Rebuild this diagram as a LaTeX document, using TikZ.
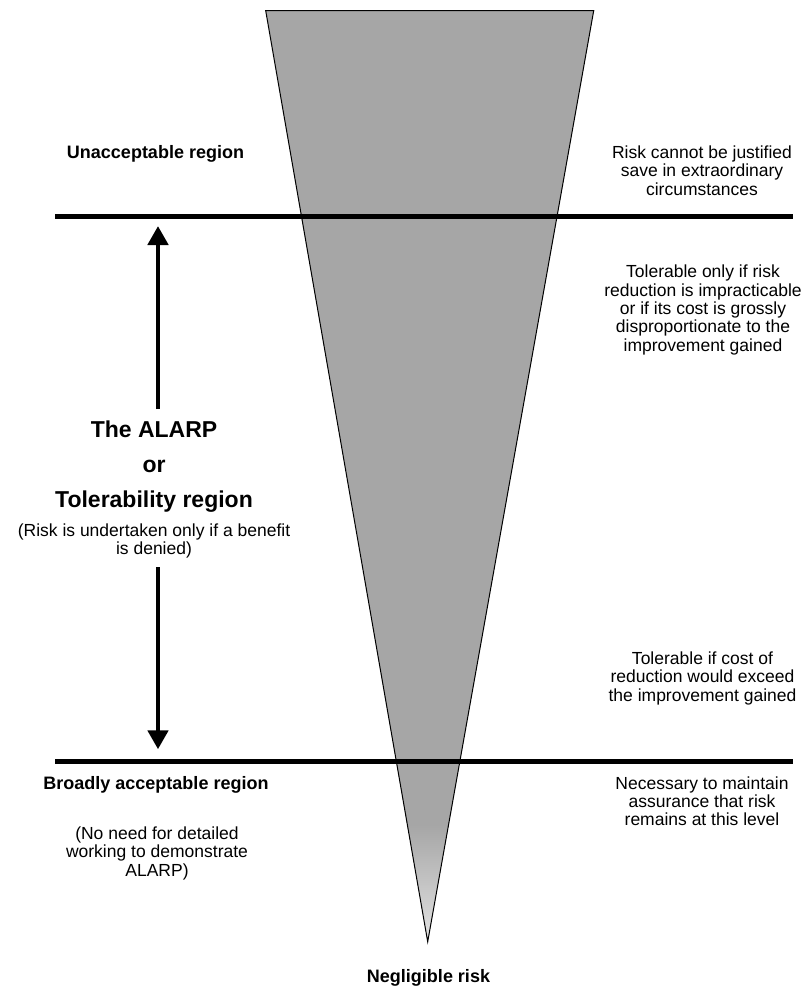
\documentclass[tikz,border=0pt]{standalone}
\usepackage{fontspec}
\setmainfont{Liberation Sans}
\usetikzlibrary{arrows.meta}
\definecolor{conegray}{HTML}{A6A6A6}
\definecolor{tipgray}{HTML}{E4E4E4}
\begin{document}
\begin{tikzpicture}[x=1pt,y=-1pt,
  lbl/.style={font=\fontsize{18}{20}\selectfont\bfseries, anchor=base, inner sep=0pt},
  note/.style={font=\fontsize{17.5}{18.3}\selectfont, align=center, anchor=base, inner sep=0pt},
  big/.style={font=\fontsize{23}{35}\selectfont\bfseries, align=center, anchor=base, inner sep=0pt},
  hline/.style={line width=5.5pt},
  dblarrow/.style={line width=4.7pt, -{Triangle[width=20pt,length=19pt]}},
  cone/.style={draw=black, line width=1pt, line join=miter}]
\useasboundingbox (0,0) rectangle (808,987);

% cone
\coordinate (tl) at (265.7,10.7);
\coordinate (tr) at (593.7,10.7);
\coordinate (tip) at (427.7,941.7);
\fill[conegray] (tl) -- (tr) -- (tip) -- cycle;
\begin{scope}
  \clip (tl) -- (tr) -- (tip) -- cycle;
  \shade[top color=conegray, bottom color=tipgray] (250,825) rectangle (610,945);
\end{scope}
\draw[cone] (tl) -- (tr) -- (tip) -- cycle;

% horizontal lines
\coordinate (l1a) at (55,216.3);
\coordinate (l1b) at (793,216.3);
\coordinate (l2a) at (55,761.3);
\coordinate (l2b) at (793,761.3);
\draw[hline] (l1a) -- (l1b);
\draw[hline] (l2a) -- (l2b);

% arrows
\coordinate (upstart) at (158,409);
\coordinate (uptip) at (158,226);
\coordinate (dnstart) at (158,567);
\coordinate (dntip) at (158,749.3);
\draw[dblarrow] (upstart) -- (uptip);
\draw[dblarrow] (dnstart) -- (dntip);

% left labels (multi-line nodes: base = last line baseline)
\node[lbl] (unacc) at (155.5,158.3) {Unacceptable region};
\node[big] (alarp) at (154,507.7) {The ALARP\\or\\Tolerability region};
\node[note, font=\fontsize{17.5}{18}\selectfont] (alarpnote) at (154,554) {(Risk is undertaken only if a benefit\\is denied)};
\node[lbl] (broad) at (156,789.3) {Broadly acceptable region};
\node[note] (broadnote) at (157,876) {(No need for detailed\\working to demonstrate\\ALARP)};
\node[lbl] (negl) at (428.5,982) {Negligible risk};

% right notes
\node[note] (r1) at (702,195) {Risk cannot be justified\\save in extraordinary\\circumstances};
\node[note] (r2) at (703,351) {Tolerable only if risk\\reduction is impracticable\\or if its cost is grossly\\disproportionate to the\\improvement gained};
\node[note] (r3) at (702.5,701) {Tolerable if cost of\\reduction would exceed\\the improvement gained};
\node[note] (r4) at (702,825.7) {Necessary to maintain\\assurance that risk\\remains at this level};
\end{tikzpicture}
\end{document}
